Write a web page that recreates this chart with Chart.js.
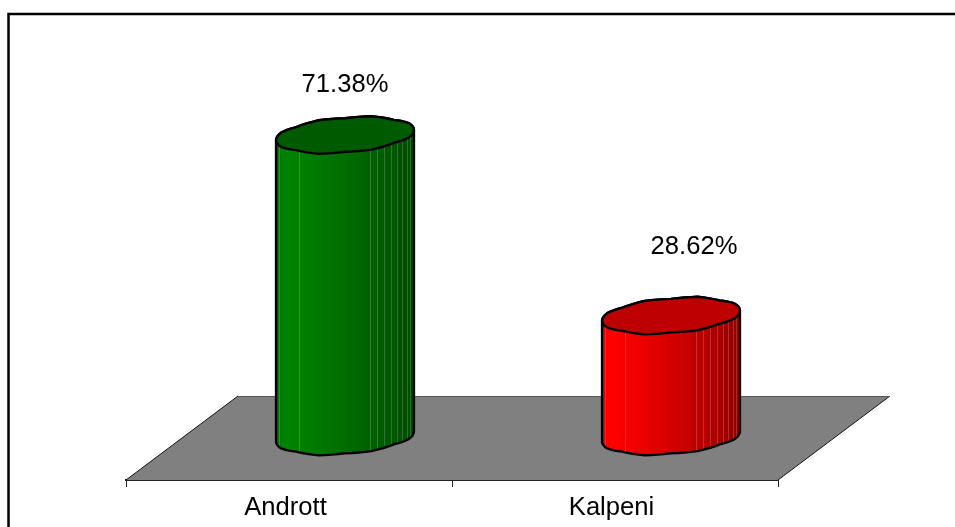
<!DOCTYPE html>
<html><head><meta charset="utf-8">
<style>html,body{margin:0;padding:0;background:#fff}canvas{display:block}</style>
<script src="https://cdn.jsdelivr.net/npm/chart.js@4/dist/chart.umd.min.js"></script>
</head><body><div style="width:955px;height:527px"><canvas id="c" width="955" height="527"></canvas></div>
<script>
const categories = ['Andrott', 'Kalpeni'];
const shares = [71.38, 28.62];
const bodyStops = [
  [[0,'#007400'],[0.07,'#008400'],[0.25,'#007c00'],[0.55,'#006a00'],[0.8,'#005a00'],[1,'#004a00']],
  [[0,'#f00000'],[0.07,'#ff0000'],[0.25,'#f00000'],[0.55,'#d00000'],[0.8,'#b00000'],[1,'#900000']]
];
const capColours = ['#005a00', '#bd0000'];
const facetLines = [0.02,0.17,0.68,0.735,0.785,0.835,0.88,0.915,0.95,0.97];
const capWobble = [0,0.8,-0.6,0.7,-0.5,0.9,-0.7,0.6,0,-0.7,0.6,-0.8,0.5,-0.9,0.7,-0.6];
const DEPTH_X = 112, DEPTH_Y = 84, LIFT = 1.5, A_SHEAR = -0.075, B_RATIO = 0.125;
const FONT = '"Liberation Sans", Arial, sans-serif';

function wobbleAt(t) {
  const turn = ((t % (2 * Math.PI)) + 2 * Math.PI) % (2 * Math.PI);
  const pos = turn / (2 * Math.PI) * capWobble.length;
  const i = Math.floor(pos) % capWobble.length, f = pos - Math.floor(pos);
  return capWobble[i] * (1 - f) + capWobble[(i + 1) % capWobble.length] * f;
}
function ring(x, y, a, from, to, n) {
  const pts = [];
  for (let i = 0; i <= n; i++) {
    const t = from + (to - from) * i / n;
    pts.push([x + a * Math.cos(t), y + wobbleAt(t) + a * B_RATIO * 2 * Math.sin(t) + A_SHEAR * a * Math.cos(t)]);
  }
  return pts;
}
function trace(ctx, pts, start) {
  pts.forEach((p, i) => (i === 0 && start) ? ctx.moveTo(p[0], p[1]) : ctx.lineTo(p[0], p[1]));
}
function silhouette(ctx, el) {
  const a = el.width / 2;
  trace(ctx, ring(el.x, el.base, a, Math.PI, 0, 32), false);
  trace(ctx, ring(el.x, el.y, a, 0, -Math.PI, 32), false);
  ctx.closePath();
}
function bodyGradient(ctx, x, w, idx) {
  const g = ctx.createLinearGradient(x - w / 2, 0, x + w / 2, 0);
  bodyStops[idx].forEach(s => g.addColorStop(s[0], s[1]));
  return g;
}
const cylinders = {
  id: 'cylinders',
  beforeDatasetsDraw(chart) {
    const { ctx, chartArea: ca } = chart;
    ctx.save();
    ctx.beginPath();
    ctx.moveTo(ca.left, ca.bottom);
    ctx.lineTo(ca.left + DEPTH_X, ca.bottom - DEPTH_Y);
    ctx.lineTo(ca.right + DEPTH_X, ca.bottom - DEPTH_Y);
    ctx.lineTo(ca.right, ca.bottom);
    ctx.closePath();
    ctx.fillStyle = '#808080';
    ctx.fill();
    ctx.lineWidth = 1;
    ctx.strokeStyle = '#111';
    ctx.beginPath();
    ctx.moveTo(ca.left, ca.bottom);
    ctx.lineTo(ca.left + DEPTH_X, ca.bottom - DEPTH_Y);
    ctx.moveTo(ca.right + DEPTH_X, ca.bottom - DEPTH_Y);
    ctx.lineTo(ca.right, ca.bottom);
    ctx.stroke();
    ctx.strokeStyle = '#555';
    ctx.beginPath();
    ctx.moveTo(ca.left + DEPTH_X, ca.bottom - DEPTH_Y + 0.5);
    ctx.lineTo(ca.right + DEPTH_X, ca.bottom - DEPTH_Y + 0.5);
    ctx.stroke();
    ctx.restore();
  },
  beforeDatasetDraw(chart, args) {
    const ctx = chart.ctx;
    ctx.save();
    ctx.translate(DEPTH_X / 2, -DEPTH_Y / 2 - LIFT);
    args.meta.data.forEach((el, i) => {
      ctx.beginPath();
      silhouette(ctx, el);
      ctx.fillStyle = bodyGradient(ctx, el.x, el.width, i);
      ctx.fill();
    });
    ctx.beginPath();
    args.meta.data.forEach(el => silhouette(ctx, el));
    ctx.clip();
  },
  afterDatasetDraw(chart, args) {
    const ctx = chart.ctx;
    ctx.restore();
    ctx.save();
    ctx.translate(DEPTH_X / 2, -DEPTH_Y / 2 - LIFT);
    args.meta.data.forEach((el, i) => {
      const a = el.width / 2;
      ctx.lineWidth = 1;
      ctx.strokeStyle = 'rgba(255,255,255,0.18)';
      facetLines.forEach(f => {
        const x = el.x - a + f * el.width;
        const off = A_SHEAR * (x - el.x);
        const h = a * B_RATIO * 2 * Math.sqrt(Math.max(0, 1 - Math.pow((x - el.x) / a, 2)));
        ctx.beginPath();
        ctx.moveTo(Math.round(x) + 0.5, el.y + off + h);
        ctx.lineTo(Math.round(x) + 0.5, el.base + off + h);
        ctx.stroke();
      });
      ctx.lineJoin = 'round';
      ctx.lineWidth = 2.4;
      ctx.strokeStyle = '#000';
      ctx.beginPath();
      silhouette(ctx, el);
      ctx.stroke();
      ctx.beginPath();
      trace(ctx, ring(el.x, el.y, a, 0, Math.PI * 2, 64), true);
      ctx.closePath();
      ctx.fillStyle = capColours[i];
      ctx.fill();
      ctx.stroke();
    });
    ctx.restore();
  },
  afterDraw(chart) {
    const ctx = chart.ctx;
    const meta = chart.getDatasetMeta(0);
    ctx.save();
    ctx.font = '25.6px ' + FONT;
    ctx.fillStyle = '#000';
    ctx.textAlign = 'center';
    ctx.textBaseline = 'middle';
    const shift = [[56, -94], [79, -112]];
    meta.data.forEach((el, i) => {
      ctx.fillText(shares[i].toFixed(2) + '%', el.x + shift[i][0], el.y + shift[i][1]);
    });
    ctx.strokeStyle = '#000';
    ctx.lineWidth = 2.5;
    ctx.beginPath();
    ctx.moveTo(8.5, 527);
    ctx.lineTo(8.5, 14);
    ctx.lineTo(955, 14);
    ctx.stroke();
    ctx.restore();
  }
};
new Chart(document.getElementById('c'), {
  type: 'bar',
  data: {
    labels: categories,
    datasets: [{
      data: shares,
      clip: false,
      borderWidth: 0,
      barPercentage: 0.6,
      categoryPercentage: 0.705,
      backgroundColor(c) {
        const chart = c.chart, sc = chart.scales.x;
        if (!chart.chartArea || !sc || c.dataIndex === undefined) return '#808080';
        const w = sc.width / categories.length * 0.6 * 0.705;
        return bodyGradient(chart.ctx, sc.getPixelForValue(c.dataIndex), w, c.dataIndex);
      }
    }]
  },
  options: {
    responsive: false,
    animation: false,
    layout: { padding: { left: 126, right: 177, top: 140, bottom: 0 } },
    plugins: { legend: { display: false }, title: { display: false }, tooltip: { enabled: false } },
    scales: {
      x: {
        grid: { drawOnChartArea: false, drawTicks: true, tickLength: 7, color: '#222', offset: true },
        border: { display: true, color: '#222', width: 2 },
        ticks: { color: '#000', padding: 6, labelOffset: -3.5, maxRotation: 0,
                 font: { family: FONT, size: 25.6 } },
        afterFit(s) { s.height = 47; }
      },
      y: { display: false, min: 0, max: 80.5 }
    }
  },
  plugins: [cylinders]
});
</script></body></html>
